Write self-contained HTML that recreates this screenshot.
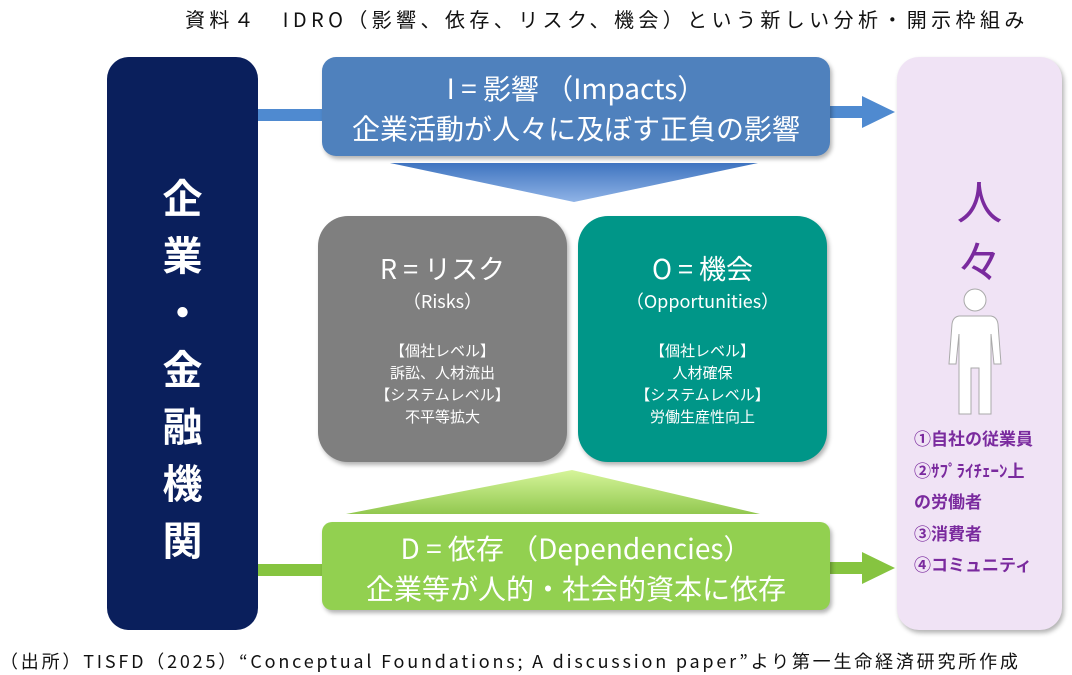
<!DOCTYPE html>
<html><head><meta charset="utf-8"><style>
body{margin:0;width:1072px;height:675px;background:#fff;position:relative;overflow:hidden;font-family:"Noto Sans CJK JP","Liberation Sans",sans-serif;}
.a{position:absolute;}
.t{position:absolute;text-align:center;color:#fff;white-space:nowrap;}
</style></head><body>
<div class="a" style="left:185px;top:4px;width:880px;font-size:20px;color:#111;letter-spacing:4.4px;white-space:nowrap;">資料４　IDRO（影響、依存、リスク、機会）という新しい分析・開示枠組み</div>

<svg class="a" style="left:0;top:0" width="1072" height="675">
<defs>
<linearGradient id="gb" x1="0" y1="0" x2="0" y2="1"><stop offset="0" stop-color="#3f74c0"/><stop offset="1" stop-color="#8fb3e6"/></linearGradient>
<linearGradient id="gg" x1="0" y1="0" x2="0" y2="1"><stop offset="0" stop-color="#d6f59a"/><stop offset="1" stop-color="#92c850"/></linearGradient>
</defs>
<rect x="258" y="109" width="70" height="12" fill="#4f8ad0"/>
<rect x="828" y="106" width="38" height="12" fill="#4f8ad0"/>
<polygon points="862,96 895,112 862,128" fill="#4f8ad0"/>
<rect x="258" y="564" width="70" height="12" fill="#86c440"/>
<rect x="828" y="562" width="38" height="12" fill="#86c440"/>
<polygon points="862,552 895,568 862,584" fill="#86c440"/>
<polygon points="390,163 758,163 574,202" fill="url(#gb)"/>
<polygon points="346,514 760,514 572,470" fill="url(#gg)"/>
</svg>

<div class="a" style="left:107px;top:57px;width:151px;height:573px;background:#0a1f5c;border-radius:22px;"></div>
<div class="t" style="left:107px;top:168px;width:151px;font-size:40px;font-weight:bold;line-height:57px;white-space:normal;">企<br>業<br>・<br>金<br>融<br>機<br>関</div>

<div class="a" style="left:322px;top:57px;width:508px;height:99px;background:#4f81bd;border-radius:14px;box-shadow:2px 3px 4px rgba(0,0,0,.3);"></div>
<div class="t" style="left:322px;top:68px;width:508px;font-size:28px;line-height:40px;">I&nbsp;=&nbsp;影響&nbsp;（Impacts）<br>企業活動が人々に及ぼす正負の影響</div>

<div class="a" style="left:318px;top:216px;width:249px;height:246px;background:#7f7f7f;border-radius:30px;box-shadow:2px 3px 4px rgba(0,0,0,.3);"></div>
<div class="t" style="left:318px;top:248px;width:249px;font-size:27px;">R&nbsp;=&nbsp;リスク</div>
<div class="t" style="left:318px;top:288px;width:249px;font-size:18px;">（Risks）</div>
<div class="t" style="left:318px;top:340px;width:249px;font-size:15px;line-height:22px;">【個社レベル】<br>訴訟、人材流出<br>【システムレベル】<br>不平等拡大</div>

<div class="a" style="left:578px;top:216px;width:249px;height:246px;background:#009688;border-radius:30px;box-shadow:2px 3px 4px rgba(0,0,0,.3);"></div>
<div class="t" style="left:578px;top:248px;width:249px;font-size:27px;">O&nbsp;=&nbsp;機会</div>
<div class="t" style="left:578px;top:288px;width:249px;font-size:18px;">（Opportunities）</div>
<div class="t" style="left:578px;top:340px;width:249px;font-size:15px;line-height:22px;">【個社レベル】<br>人材確保<br>【システムレベル】<br>労働生産性向上</div>

<div class="a" style="left:322px;top:522px;width:508px;height:88px;background:#92d050;border-radius:10px;box-shadow:2px 3px 4px rgba(0,0,0,.3);"></div>
<div class="t" style="left:322px;top:528px;width:508px;font-size:28px;line-height:40px;">D&nbsp;=&nbsp;依存&nbsp;（Dependencies）<br>企業等が人的・社会的資本に依存</div>

<div class="a" style="left:897px;top:57px;width:165px;height:573px;background:#f0e3f5;border-radius:22px;box-shadow:2px 3px 5px rgba(0,0,0,.3);"></div>
<div class="t" style="left:897px;top:170px;width:165px;font-size:46px;line-height:60px;color:#7a2a9e;">人<br>々</div>
<svg class="a" style="left:945px;top:286px" width="60" height="135">
<circle cx="30" cy="14" r="11" fill="#fff" stroke="#aaa" stroke-width="1"/>
<path d="M14,30 H46 Q52,31 53,38 L56,78 H49 L46,48 V128 H34 V82 H26 V128 H14 V48 L11,78 H4 L7,38 Q8,31 14,30Z" fill="#fff" stroke="#aaa" stroke-width="1"/>
</svg>
<div class="a" style="left:914px;top:422px;font-size:17px;font-weight:bold;line-height:31.5px;color:#7a2a9e;">①自社の従業員<br>②ｻﾌﾟﾗｲﾁｪｰﾝ上<br>の労働者<br>③消費者<br>④コミュニティ</div>

<div class="a" style="left:0;top:648px;font-size:18px;color:#111;white-space:nowrap;letter-spacing:2.8px;">（出所）TISFD（2025）“Conceptual Foundations; A discussion paper”より第一生命経済研究所作成</div>
</body></html>
